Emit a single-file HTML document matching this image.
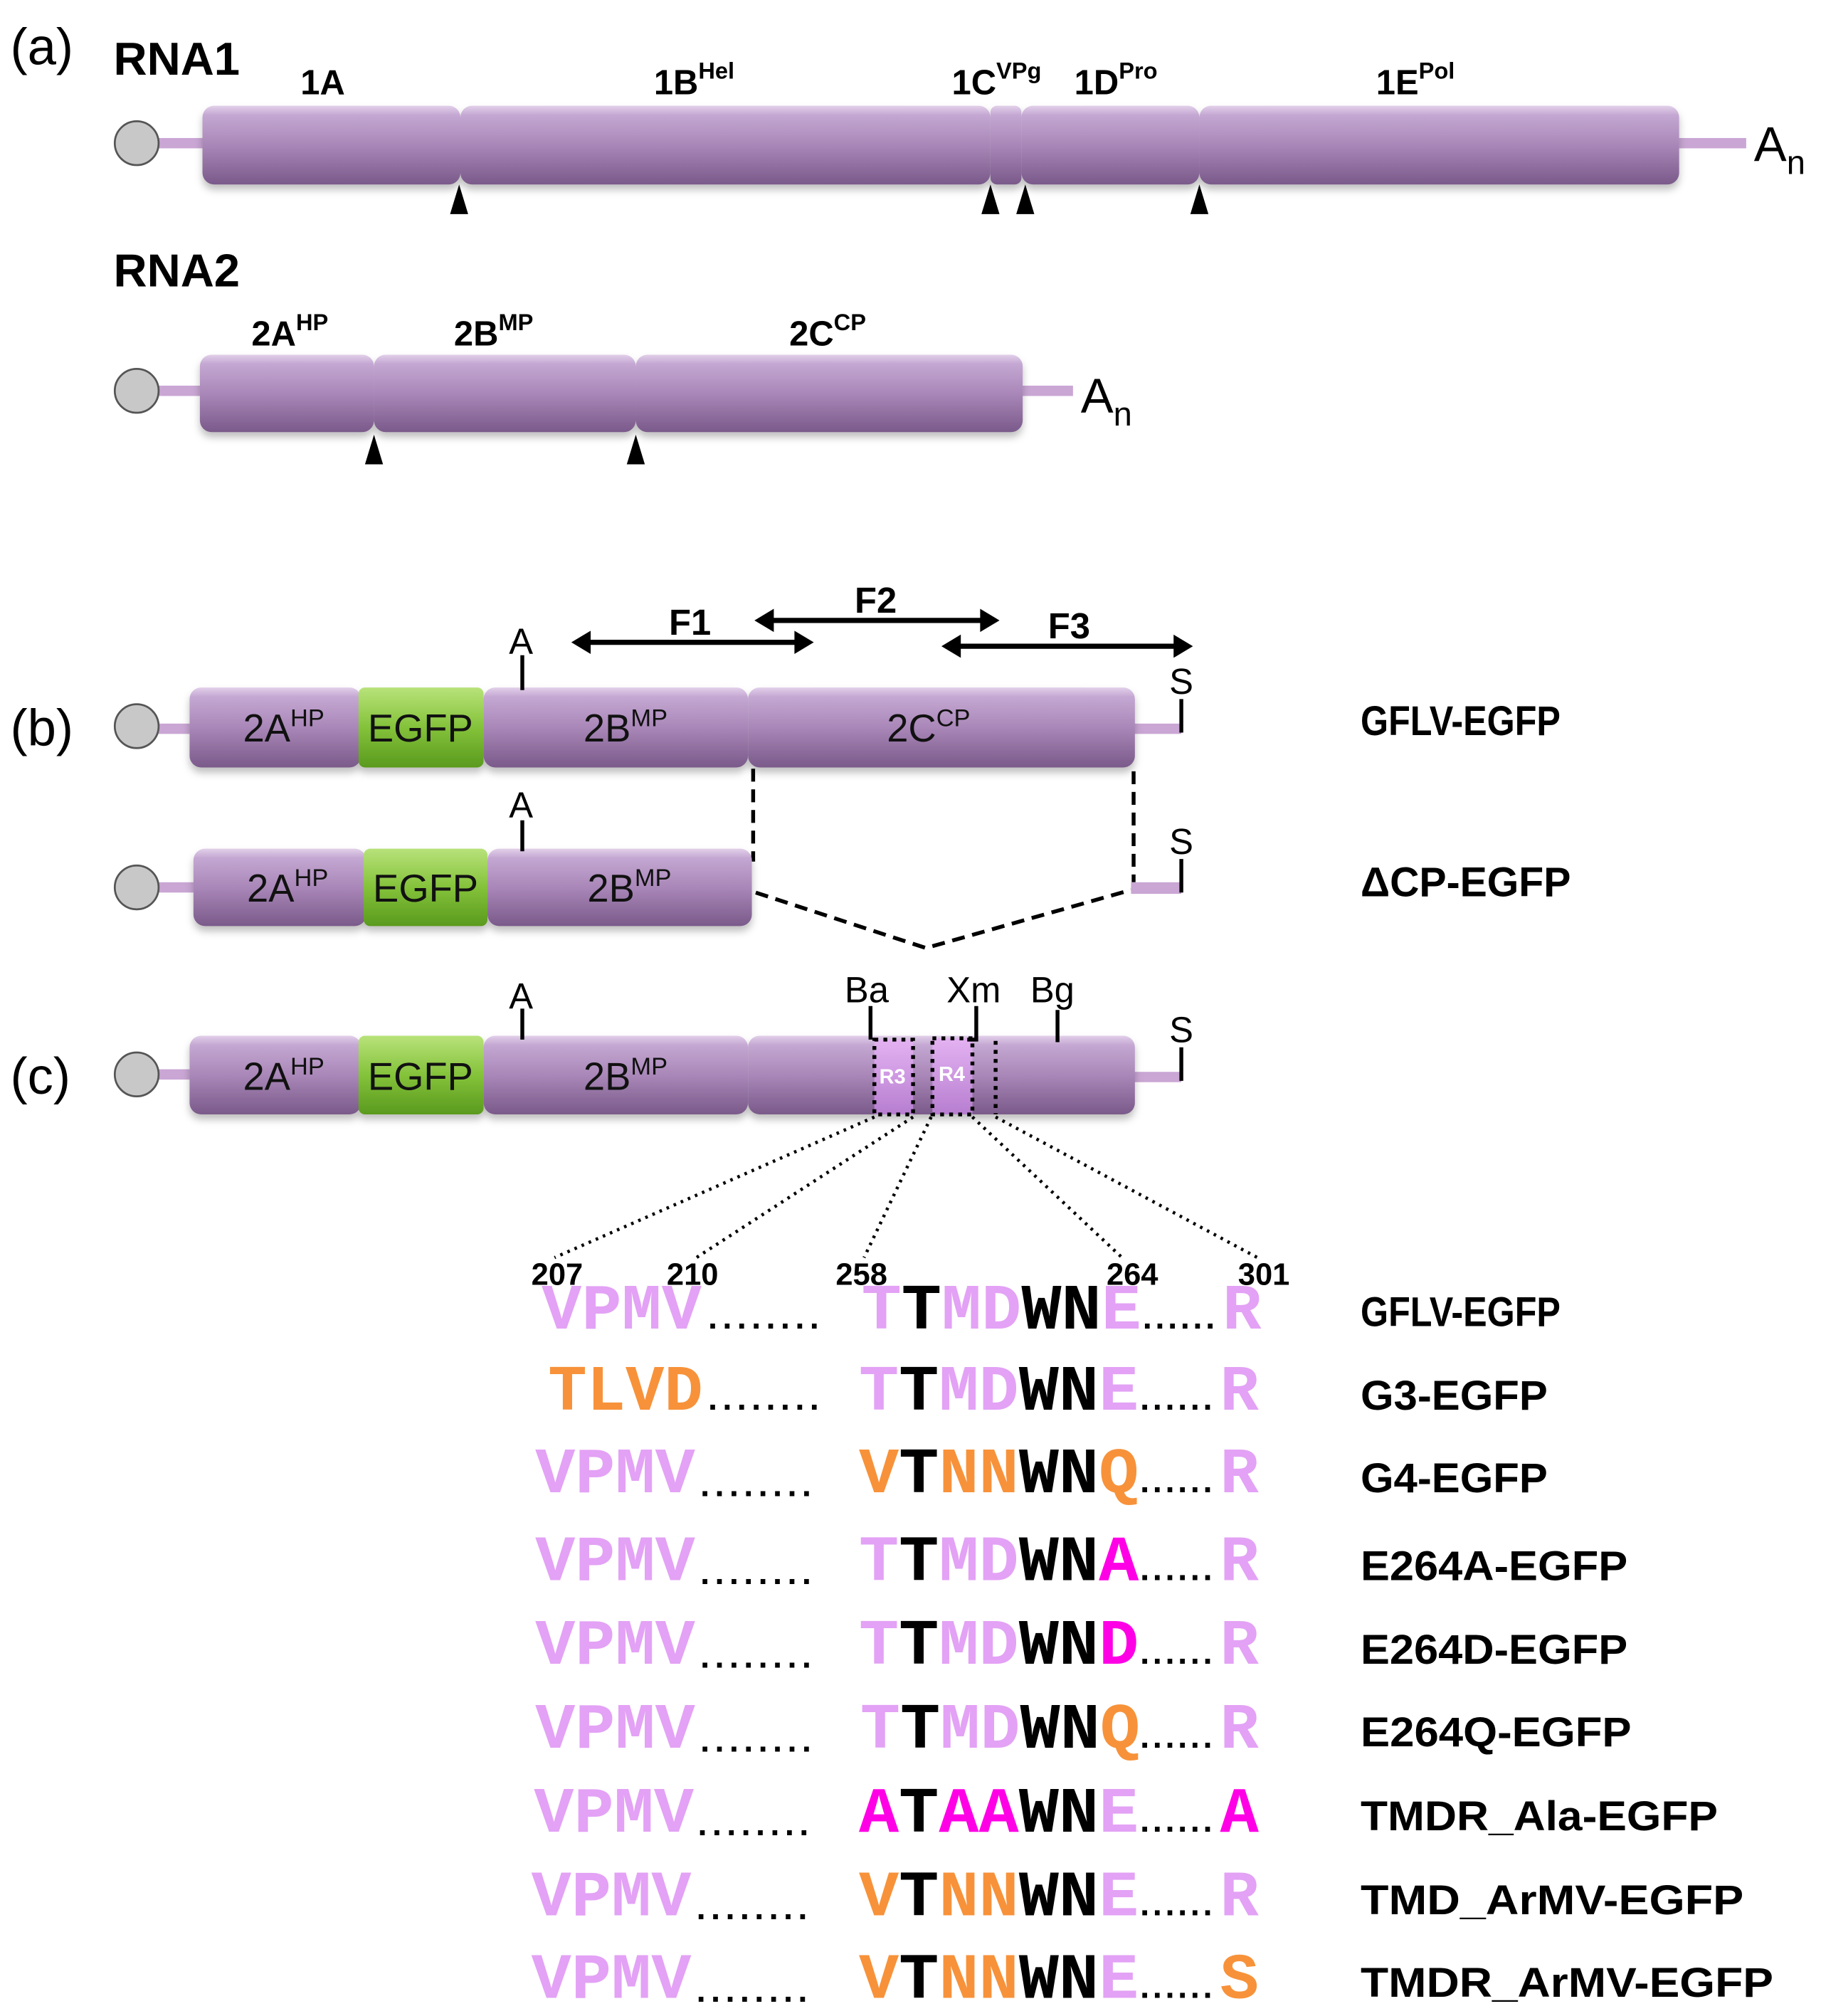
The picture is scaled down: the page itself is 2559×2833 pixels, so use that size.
<!DOCTYPE html>
<html><head><meta charset="utf-8"><style>
html,body{margin:0;padding:0;background:#fff;}
svg{display:block;}
.lab{font-family:"Liberation Sans",sans-serif;font-weight:bold;fill:#000;}
.in{font-family:"Liberation Sans",sans-serif;fill:#111;}
.seq{font-family:"Liberation Mono",monospace;font-weight:bold;font-size:50px;}
.dots{font-family:"Liberation Sans",sans-serif;font-weight:bold;font-size:26px;fill:#000;}
.p{fill:#e3a2f5}.o{fill:#f7923a}.m{fill:#ff00e6}.k{fill:#000}
</style></head><body>
<svg width="2559" height="2833" viewBox="0 0 1412 1563" preserveAspectRatio="none" xmlns="http://www.w3.org/2000/svg">
<defs>
<linearGradient id="pg" x1="0" y1="0" x2="0" y2="1">
<stop offset="0" stop-color="#e2d0ea"/><stop offset="0.12" stop-color="#c4a7d2"/><stop offset="0.5" stop-color="#a987b8"/><stop offset="1" stop-color="#7a5a8a"/></linearGradient>
<linearGradient id="gg" x1="0" y1="0" x2="0" y2="1">
<stop offset="0" stop-color="#b8e27a"/><stop offset="0.5" stop-color="#84c23a"/><stop offset="1" stop-color="#5a9a1e"/></linearGradient>
<linearGradient id="rg" x1="0" y1="0" x2="0" y2="1">
<stop offset="0" stop-color="#e4b2f2"/><stop offset="1" stop-color="#b77ed0"/></linearGradient>
<filter id="sh" x="-5%" y="-20%" width="110%" height="150%"><feDropShadow dx="0" dy="4" stdDeviation="3" flood-color="#000" flood-opacity="0.25"/></filter>
</defs>

<!-- Panel a -->
<text x="8" y="50" font-family="Liberation Sans,sans-serif" font-size="40">(a)</text>
<text x="88" y="58" class="lab" font-size="36">RNA1</text>
<g class="lab" font-size="27">
<text x="233" y="73">1A</text>
<text x="507" y="73">1B<tspan font-size="18" dy="-12">Hel</tspan></text>
<text x="738" y="73">1C<tspan font-size="18" dy="-12">VPg</tspan></text>
<text x="833" y="73">1D<tspan font-size="18" dy="-12">Pro</tspan></text>
<text x="1067" y="73">1E<tspan font-size="18" dy="-12">Pol</tspan></text>
</g>
<rect x="120" y="107" width="40" height="8" fill="#c9a6d4"/>
<rect x="1298" y="107" width="56" height="8" fill="#c9a6d4"/>
<circle cx="106" cy="111" r="17" fill="#c8c8c8" stroke="#555" stroke-width="1.5"/>
<g filter="url(#sh)" fill="url(#pg)">
<rect x="157" y="82" width="200" height="61" rx="9"/>
<rect x="357" y="82" width="411" height="61" rx="9"/>
<rect x="768" y="82" width="24" height="61" rx="5"/>
<rect x="792" y="82" width="138" height="61" rx="9"/>
<rect x="930" y="82" width="372" height="61" rx="9"/>
</g>
<text x="1360" y="125" font-family="Liberation Sans,sans-serif" font-size="38">A<tspan font-size="26" dy="10">n</tspan></text>
<g fill="#000">
<polygon points="356,143 349,166 363,166"/><polygon points="768,143 761,166 775,166"/>
<polygon points="795,143 788,166 802,166"/><polygon points="930,143 923,166 937,166"/>
</g>

<text x="88" y="222" class="lab" font-size="36">RNA2</text>
<g class="lab" font-size="27">
<text x="195" y="268">2A<tspan font-size="18" dy="-12">HP</tspan></text>
<text x="352" y="268">2B<tspan font-size="18" dy="-12">MP</tspan></text>
<text x="612" y="268">2C<tspan font-size="18" dy="-12">CP</tspan></text>
</g>
<rect x="120" y="299" width="40" height="8" fill="#c9a6d4"/>
<rect x="790" y="299" width="42" height="8" fill="#c9a6d4"/>
<circle cx="106" cy="303" r="17" fill="#c8c8c8" stroke="#555" stroke-width="1.5"/>
<g filter="url(#sh)" fill="url(#pg)">
<rect x="155" y="275" width="135" height="60" rx="9"/>
<rect x="290" y="275" width="203" height="60" rx="9"/>
<rect x="493" y="275" width="300" height="60" rx="9"/>
</g>
<text x="838" y="320" font-family="Liberation Sans,sans-serif" font-size="38">A<tspan font-size="26" dy="10">n</tspan></text>
<g fill="#000"><polygon points="290,337 283,360 297,360"/><polygon points="493,337 486,360 500,360"/></g>

<!-- Panel b -->
<text x="8" y="578" font-family="Liberation Sans,sans-serif" font-size="40">(b)</text>
<g stroke="#000" stroke-width="4" fill="none">
<line x1="450" y1="498" x2="624" y2="498"/><line x1="592" y1="481" x2="768" y2="481"/><line x1="737" y1="501" x2="918" y2="501"/>
</g>
<g fill="#000">
<polygon points="443,498 458,489 458,507"/><polygon points="631,498 616,489 616,507"/>
<polygon points="585,481 600,472 600,490"/><polygon points="775,481 760,472 760,490"/>
<polygon points="730,501 745,492 745,510"/><polygon points="925,501 910,492 910,510"/>
</g>
<g class="lab" font-size="28">
<text x="535" y="492" text-anchor="middle">F1</text><text x="679" y="475" text-anchor="middle">F2</text><text x="829" y="495" text-anchor="middle">F3</text>
</g>
<!-- bar b1 -->
<rect x="120" y="561" width="32" height="8" fill="#c9a6d4"/>
<rect x="876" y="561" width="40" height="8" fill="#c9a6d4"/>
<circle cx="106" cy="563" r="17" fill="#c8c8c8" stroke="#555" stroke-width="1.5"/>
<g filter="url(#sh)">
<rect x="147" y="533" width="133" height="62" rx="9" fill="url(#pg)"/>
<rect x="278" y="533" width="97" height="62" rx="5" fill="url(#gg)"/>
<rect x="375" y="533" width="205" height="62" rx="9" fill="url(#pg)"/>
<rect x="580" y="533" width="300" height="62" rx="9" fill="url(#pg)"/>
</g>
<g class="in" font-size="30" text-anchor="middle">
<text x="220" y="575">2A<tspan font-size="19" dy="-12">HP</tspan></text>
<text x="326" y="575">EGFP</text>
<text x="485" y="575">2B<tspan font-size="19" dy="-12">MP</tspan></text>
<text x="720" y="575">2C<tspan font-size="19" dy="-12">CP</tspan></text>
</g>
<g stroke="#000" stroke-width="3"><line x1="405" y1="508" x2="405" y2="535"/><line x1="916" y1="542" x2="916" y2="568"/></g>
<g font-family="Liberation Sans,sans-serif" font-size="28" text-anchor="middle">
<text x="404" y="507">A</text><text x="916" y="538">S</text></g>
<text x="1055" y="570" class="lab" font-size="32" textLength="155" lengthAdjust="spacingAndGlyphs">GFLV-EGFP</text>

<g stroke="#000" stroke-width="3" stroke-dasharray="10,6" fill="none">
<line x1="584" y1="596" x2="584" y2="668"/><line x1="879" y1="598" x2="879" y2="684"/>
<polyline points="586,692 718,735 877,690"/>
</g>
<!-- bar b2 -->
<rect x="120" y="684" width="34" height="8" fill="#c9a6d4"/>
<rect x="877" y="684" width="39" height="9" fill="#c9a6d4"/>
<circle cx="106" cy="688" r="17" fill="#c8c8c8" stroke="#555" stroke-width="1.5"/>
<g filter="url(#sh)">
<rect x="150" y="658" width="134" height="60" rx="9" fill="url(#pg)"/>
<rect x="282" y="658" width="96" height="60" rx="5" fill="url(#gg)"/>
<rect x="378" y="658" width="205" height="60" rx="9" fill="url(#pg)"/>
</g>
<g class="in" font-size="30" text-anchor="middle">
<text x="223" y="699">2A<tspan font-size="19" dy="-12">HP</tspan></text>
<text x="330" y="699">EGFP</text>
<text x="488" y="699">2B<tspan font-size="19" dy="-12">MP</tspan></text>
</g>
<g stroke="#000" stroke-width="3"><line x1="405" y1="636" x2="405" y2="660"/><line x1="916" y1="666" x2="916" y2="692"/></g>
<g font-family="Liberation Sans,sans-serif" font-size="28" text-anchor="middle">
<text x="404" y="634">A</text><text x="916" y="662">S</text></g>
<text x="1055" y="695" class="lab" font-size="32" textLength="163" lengthAdjust="spacingAndGlyphs">ΔCP-EGFP</text>

<!-- Panel c -->
<text x="8" y="848" font-family="Liberation Sans,sans-serif" font-size="40">(c)</text>
<rect x="120" y="829" width="32" height="8" fill="#c9a6d4"/>
<rect x="876" y="831" width="40" height="8" fill="#c9a6d4"/>
<circle cx="106" cy="833" r="17" fill="#c8c8c8" stroke="#555" stroke-width="1.5"/>
<g filter="url(#sh)">
<rect x="147" y="803" width="133" height="61" rx="9" fill="url(#pg)"/>
<rect x="278" y="803" width="97" height="61" rx="5" fill="url(#gg)"/>
<rect x="375" y="803" width="205" height="61" rx="9" fill="url(#pg)"/>
<rect x="580" y="803" width="300" height="61" rx="9" fill="url(#pg)"/>
</g>
<g class="in" font-size="30" text-anchor="middle">
<text x="220" y="845">2A<tspan font-size="19" dy="-12">HP</tspan></text>
<text x="326" y="845">EGFP</text>
<text x="485" y="845">2B<tspan font-size="19" dy="-12">MP</tspan></text>
</g>
<rect x="678" y="806" width="30" height="58" fill="url(#rg)" stroke="#000" stroke-width="3" stroke-dasharray="3,4"/>
<rect x="723" y="805" width="31" height="59" fill="url(#rg)" stroke="#000" stroke-width="3" stroke-dasharray="3,4"/>
<line x1="772" y1="807" x2="772" y2="864" stroke="#000" stroke-width="3" stroke-dasharray="3,4"/>
<g font-family="Liberation Sans,sans-serif" font-weight="bold" font-size="16" fill="#fff" text-anchor="middle">
<text x="692" y="840">R3</text><text x="738" y="838">R4</text></g>
<g stroke="#000" stroke-width="3">
<line x1="405" y1="782" x2="405" y2="806"/><line x1="675" y1="780" x2="675" y2="806"/>
<polyline points="757,780 757,806 750,806" fill="none"/><line x1="820" y1="783" x2="820" y2="808"/>
<line x1="916" y1="812" x2="916" y2="838"/></g>
<g font-family="Liberation Sans,sans-serif" font-size="28" text-anchor="middle">
<text x="404" y="782">A</text><text x="672" y="777">Ba</text><text x="755" y="777">Xm</text><text x="816" y="777">Bg</text><text x="916" y="808">S</text></g>
<g stroke="#000" stroke-width="2.5" stroke-dasharray="2,4" fill="none">
<line x1="678" y1="866" x2="430" y2="975"/><line x1="708" y1="866" x2="540" y2="975"/>
<line x1="722" y1="866" x2="670" y2="975"/><line x1="754" y1="866" x2="870" y2="975"/>
<line x1="772" y1="866" x2="975" y2="975"/></g>
<g class="lab" font-size="24" text-anchor="middle">
<text x="432" y="996">207</text><text x="537" y="996">210</text><text x="668" y="996">258</text><text x="878" y="996">264</text><text x="980" y="996">301</text></g>

<!-- sequences -->
<g class="seq">
<text x="420" y="1030" class="p" textLength="124" lengthAdjust="spacingAndGlyphs">VPMV</text>
<text x="668" y="1030" textLength="217" lengthAdjust="spacingAndGlyphs"><tspan class="p">T</tspan><tspan class="k">T</tspan><tspan class="p">MD</tspan><tspan class="k">WN</tspan><tspan class="p">E</tspan></text>
<text x="948" y="1030" class="p">R</text>

<text x="425" y="1093" class="o" textLength="120" lengthAdjust="spacingAndGlyphs">TLVD</text>
<text x="666" y="1093" textLength="217" lengthAdjust="spacingAndGlyphs"><tspan class="p">T</tspan><tspan class="k">T</tspan><tspan class="p">MD</tspan><tspan class="k">WN</tspan><tspan class="p">E</tspan></text>
<text x="946" y="1093" class="p">R</text>

<text x="415" y="1157" class="p" textLength="124" lengthAdjust="spacingAndGlyphs">VPMV</text>
<text x="666" y="1157" textLength="217" lengthAdjust="spacingAndGlyphs"><tspan class="o">V</tspan><tspan class="k">T</tspan><tspan class="o">NN</tspan><tspan class="k">WN</tspan><tspan class="o">Q</tspan></text>
<text x="946" y="1157" class="p">R</text>

<text x="415" y="1225" class="p" textLength="124" lengthAdjust="spacingAndGlyphs">VPMV</text>
<text x="666" y="1225" textLength="217" lengthAdjust="spacingAndGlyphs"><tspan class="p">T</tspan><tspan class="k">T</tspan><tspan class="p">MD</tspan><tspan class="k">WN</tspan><tspan class="m">A</tspan></text>
<text x="946" y="1225" class="p">R</text>

<text x="415" y="1290" class="p" textLength="124" lengthAdjust="spacingAndGlyphs">VPMV</text>
<text x="666" y="1290" textLength="217" lengthAdjust="spacingAndGlyphs"><tspan class="p">T</tspan><tspan class="k">T</tspan><tspan class="p">MD</tspan><tspan class="k">WN</tspan><tspan class="m">D</tspan></text>
<text x="946" y="1290" class="p">R</text>

<text x="415" y="1355" class="p" textLength="124" lengthAdjust="spacingAndGlyphs">VPMV</text>
<text x="667" y="1355" textLength="217" lengthAdjust="spacingAndGlyphs"><tspan class="p">T</tspan><tspan class="k">T</tspan><tspan class="p">MD</tspan><tspan class="k">WN</tspan><tspan class="o">Q</tspan></text>
<text x="946" y="1355" class="p">R</text>

<text x="414" y="1420" class="p" textLength="124" lengthAdjust="spacingAndGlyphs">VPMV</text>
<text x="666" y="1420" textLength="217" lengthAdjust="spacingAndGlyphs"><tspan class="m">A</tspan><tspan class="k">T</tspan><tspan class="m">AA</tspan><tspan class="k">WN</tspan><tspan class="p">E</tspan></text>
<text x="946" y="1420" class="m">A</text>

<text x="412" y="1485" class="p" textLength="124" lengthAdjust="spacingAndGlyphs">VPMV</text>
<text x="666" y="1485" textLength="217" lengthAdjust="spacingAndGlyphs"><tspan class="o">V</tspan><tspan class="k">T</tspan><tspan class="o">NN</tspan><tspan class="k">WN</tspan><tspan class="p">E</tspan></text>
<text x="946" y="1485" class="p">R</text>

<text x="412" y="1549" class="p" textLength="124" lengthAdjust="spacingAndGlyphs">VPMV</text>
<text x="666" y="1549" textLength="217" lengthAdjust="spacingAndGlyphs"><tspan class="o">V</tspan><tspan class="k">T</tspan><tspan class="o">NN</tspan><tspan class="k">WN</tspan><tspan class="p">E</tspan></text>
<text x="946" y="1549" class="o">S</text>
</g>
<g class="dots">
<text x="549" y="1030" textLength="86" lengthAdjust="spacing">........</text><text x="886" y="1030" textLength="56" lengthAdjust="spacing">......</text>
<text x="549" y="1093" textLength="86" lengthAdjust="spacing">........</text><text x="884" y="1093" textLength="56" lengthAdjust="spacing">......</text>
<text x="543" y="1160" textLength="86" lengthAdjust="spacing">........</text><text x="884" y="1157" textLength="56" lengthAdjust="spacing">......</text>
<text x="543" y="1228" textLength="86" lengthAdjust="spacing">........</text><text x="884" y="1225" textLength="56" lengthAdjust="spacing">......</text>
<text x="543" y="1293" textLength="86" lengthAdjust="spacing">........</text><text x="884" y="1290" textLength="56" lengthAdjust="spacing">......</text>
<text x="543" y="1358" textLength="86" lengthAdjust="spacing">........</text><text x="884" y="1355" textLength="56" lengthAdjust="spacing">......</text>
<text x="541" y="1423" textLength="86" lengthAdjust="spacing">........</text><text x="884" y="1420" textLength="56" lengthAdjust="spacing">......</text>
<text x="540" y="1488" textLength="86" lengthAdjust="spacing">........</text><text x="884" y="1485" textLength="56" lengthAdjust="spacing">......</text>
<text x="540" y="1552" textLength="86" lengthAdjust="spacing">........</text><text x="884" y="1549" textLength="56" lengthAdjust="spacing">......</text>
</g>
<g class="lab" font-size="32">
<text x="1055" y="1028" textLength="155" lengthAdjust="spacingAndGlyphs">GFLV-EGFP</text>
<text x="1055" y="1093" textLength="145" lengthAdjust="spacingAndGlyphs">G3-EGFP</text>
<text x="1055" y="1157" textLength="145" lengthAdjust="spacingAndGlyphs">G4-EGFP</text>
<text x="1055" y="1225" textLength="207" lengthAdjust="spacingAndGlyphs">E264A-EGFP</text>
<text x="1055" y="1290" textLength="207" lengthAdjust="spacingAndGlyphs">E264D-EGFP</text>
<text x="1055" y="1354" textLength="210" lengthAdjust="spacingAndGlyphs">E264Q-EGFP</text>
<text x="1055" y="1419" textLength="277" lengthAdjust="spacingAndGlyphs">TMDR_Ala-EGFP</text>
<text x="1055" y="1484" textLength="297" lengthAdjust="spacingAndGlyphs">TMD_ArMV-EGFP</text>
<text x="1055" y="1548" textLength="320" lengthAdjust="spacingAndGlyphs">TMDR_ArMV-EGFP</text>
</g>
</svg>
</body></html>
